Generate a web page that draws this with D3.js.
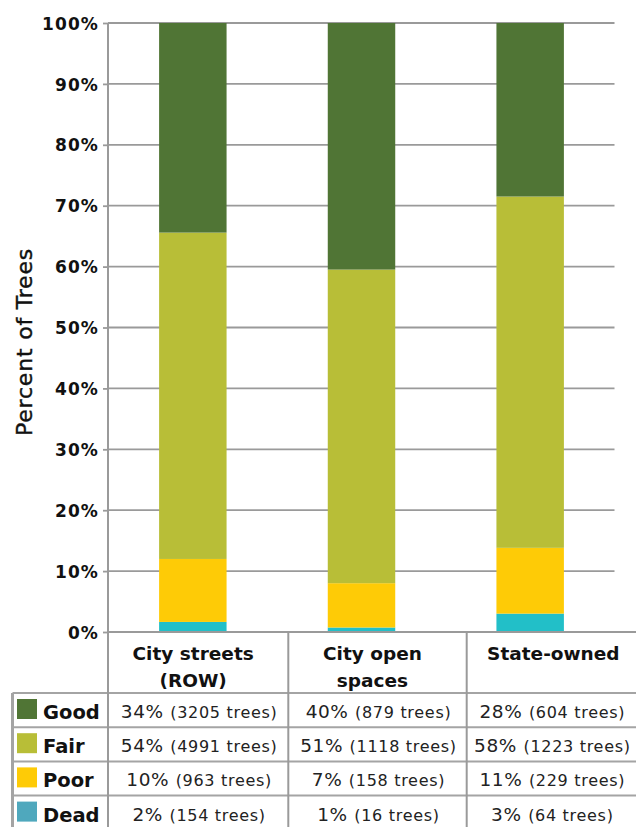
<!DOCTYPE html>
<html>
<head>
<meta charset="utf-8">
<script src="https://cdn.jsdelivr.net/npm/d3@7"></script>
<style>
  html, body { margin: 0; padding: 0; background: #fff; }
  svg { display: block; }
</style>
</head>
<body>
<svg id="chart" width="636" height="827"></svg>
<script>
// ---- data ----
const categories = ["City streets (ROW)", "City open spaces", "State-owned"];
const headerLines = [["City streets", "(ROW)"], ["City open", "spaces"], ["State-owned"]];
const conditions = ["Good", "Fair", "Poor", "Dead"];
const goodTrees = [3205, 879, 604];
const fairTrees = [4991, 1118, 1223];
const poorTrees = [963, 158, 229];
const deadTrees = [154, 16, 64];
const goodPct = [34, 40, 28];
const fairPct = [54, 51, 58];
const poorPct = [10, 7, 11];
const deadPct = [2, 1, 3];
const yTicks = [0, 0.1, 0.2, 0.3, 0.4, 0.5, 0.6, 0.7, 0.8, 0.9, 1.0];
const yAxisTitle = "Percent of Trees";

const barColors = { Good: "#507535", Fair: "#b8be37", Poor: "#fecb06", Dead: "#22bfc8" };
const legendColors = { Good: "#507535", Fair: "#b8be37", Poor: "#fecb06", Dead: "#4fa8bd" };

const treesBy = { Good: goodTrees, Fair: fairTrees, Poor: poorTrees, Dead: deadTrees };
const pctBy = { Good: goodPct, Fair: fairPct, Poor: poorPct, Dead: deadPct };

const rows = categories.map((c, i) => {
  const r = { category: c };
  conditions.forEach(k => r[k] = treesBy[k][i]);
  return r;
});

// ---- layout ----
const svg = d3.select("#chart");
const axisX = 108;
const plotRight = 614.5;
const y0 = 632, y1 = 23;
const gridColor = "#9a9a9a";
const lineColor = "#a4a4a4";
const font = "'DejaVu Sans', sans-serif";

const x = d3.scaleBand().domain(categories).range([108.5, plotRight]).paddingInner(0.6).paddingOuter(0.3);
const y = d3.scaleLinear().domain([0, 1]).range([y0, y1]);

// gridlines
svg.append("g").selectAll("line").data(yTicks.filter(t => t > 0)).join("line")
  .attr("x1", axisX).attr("x2", plotRight)
  .attr("y1", d => y(d)).attr("y2", d => y(d))
  .attr("stroke", gridColor).attr("stroke-width", 1.8);

// bars
const stackOrder = ["Dead", "Poor", "Fair", "Good"];
const series = d3.stack().keys(stackOrder).offset(d3.stackOffsetExpand)(rows);
svg.append("g").selectAll("g").data(series).join("g")
  .attr("fill", d => barColors[d.key])
  .selectAll("rect").data(d => d).join("rect")
  .attr("x", d => x(d.data.category))
  .attr("width", x.bandwidth())
  .attr("y", d => y(d[1]))
  .attr("height", d => y(d[0]) - y(d[1]));

// y axis
const yAxis = d3.axisLeft(y).tickValues(yTicks).tickFormat(d3.format(".0%")).tickSize(5).tickPadding(4);
const gy = svg.append("g").attr("transform", `translate(${axisX},0)`).call(yAxis);
gy.select(".domain").remove();
gy.selectAll(".tick line").attr("stroke", gridColor).attr("stroke-width", 1.8);
gy.selectAll(".tick text")
  .attr("font-family", font).attr("font-size", 17).attr("font-weight", "bold")
  .attr("letter-spacing", "1.1px").attr("fill", "#111").attr("dy", "0.36em");

svg.append("text")
  .attr("transform", `translate(32,342) rotate(-90)`)
  .attr("text-anchor", "middle")
  .attr("font-family", font).attr("font-size", 22).attr("letter-spacing", "0.8px")
  .attr("fill", "#111").attr("stroke", "#111").attr("stroke-width", 0.4)
  .text(yAxisTitle);

// ---- table ----
const colEdges = [108, 288.3, 466.7, 636];
const headerTop = 632, headerBottom = 693, rowH = 34.2;
const tableLeft = 12.5;
const bottom = 840;
const tbl = svg.append("g");

// horizontal lines
tbl.append("line").attr("x1", axisX).attr("x2", 636).attr("y1", headerTop).attr("y2", headerTop)
  .attr("stroke", gridColor).attr("stroke-width", 2);
const rowTops = conditions.map((c, i) => headerBottom + i * rowH);
tbl.selectAll("line.h").data(rowTops.concat([headerBottom + 4 * rowH])).join("line")
  .attr("class", "h")
  .attr("x1", tableLeft).attr("x2", 636)
  .attr("y1", d => d).attr("y2", d => d)
  .attr("stroke", lineColor).attr("stroke-width", 2);
// vertical lines
tbl.selectAll("line.v").data(colEdges.slice(0, 3)).join("line")
  .attr("class", "v")
  .attr("x1", d => d).attr("x2", d => d)
  .attr("y1", (d, i) => i === 0 ? y1 : headerTop).attr("y2", bottom)
  .attr("stroke", gridColor).attr("stroke-width", 2);
tbl.append("line").attr("x1", tableLeft).attr("x2", tableLeft).attr("y1", headerBottom).attr("y2", bottom)
  .attr("stroke", lineColor).attr("stroke-width", 3);

// headers
categories.forEach((c, i) => {
  const cx = (colEdges[i] + colEdges[i + 1]) / 2 - (i === 0 ? 5 : i === 1 ? 5 : -2);
  headerLines[i].forEach((ln, j) => {
    tbl.append("text")
      .attr("x", cx).attr("y", 660 + j * 26.5)
      .attr("text-anchor", "middle")
      .attr("font-family", font).attr("font-size", 18.5).attr("font-weight", "bold")
      .attr("fill", "#111")
      .text(ln);
  });
});

// rows
conditions.forEach((k, r) => {
  const top = rowTops[r];
  tbl.append("rect").attr("x", 17).attr("y", top + 6).attr("width", 20).attr("height", 20)
    .attr("fill", legendColors[k]);
  tbl.append("text").attr("x", 43).attr("y", top + 26)
    .attr("font-family", font).attr("font-size", 19.5).attr("font-weight", "bold")
    .attr("fill", "#111").text(k);
  categories.forEach((c, i) => {
    const cx = (colEdges[i] + colEdges[i + 1]) / 2 + 1;
    const t = tbl.append("text").attr("x", cx).attr("y", top + 25)
      .attr("text-anchor", "middle")
      .attr("font-family", font).attr("fill", "#222");
    t.append("tspan").attr("font-size", 18.5).attr("letter-spacing", "0.6px").text(pctBy[k][i] + "% ");
    t.append("tspan").attr("font-size", 16).attr("letter-spacing", "0.7px").text("(" + treesBy[k][i] + " trees)");
  });
});
</script>
</body>
</html>
